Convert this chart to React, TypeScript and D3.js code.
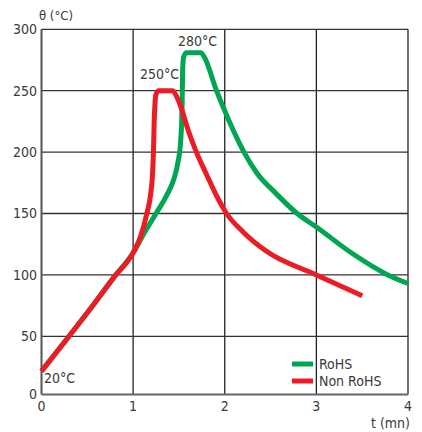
import React from "react";
import * as d3 from "d3";

const xTicks = [0, 1, 2, 3, 4];
const yTicks = [0, 50, 100, 150, 200, 250, 300];

const rohsT = [0, 0.29, 0.55, 0.8, 1.0, 1.12, 1.25, 1.36, 1.44, 1.49, 1.52, 1.535, 1.54, 1.55, 1.58, 1.74, 1.78, 1.91, 2.05, 2.21, 2.35, 2.55, 2.79, 3.0, 3.4, 3.78, 4.0];
const rohsV = [20, 49, 74, 99, 118, 134, 150, 164, 177, 192, 210, 240, 265, 277, 281, 281, 277, 250, 225, 200, 183, 167, 150, 139, 117, 100, 93];

const nonRohsT = [0, 0.29, 0.55, 0.8, 1.0, 1.08, 1.15, 1.19, 1.21, 1.222, 1.23, 1.24, 1.25, 1.28, 1.43, 1.47, 1.52, 1.6, 1.69, 1.8, 1.9, 2.02, 2.2, 2.46, 3.0, 3.5];
const nonRohsV = [20, 49, 74, 99, 118, 131, 150, 165, 180, 200, 225, 241, 247, 250, 250, 246, 237, 218, 200, 182, 166, 150, 135, 119, 100, 83];

const FONT = "'Liberation Sans Narrow', 'DejaVu Sans Condensed', sans-serif";
const TXT = "#3a3a3a";
const GREEN = "#00a651";
const RED = "#ed1c24";

export default function App() {
  const x = d3.scaleLinear().domain([0, 4]).range([41.5, 408]);
  const y = d3.scaleLinear().domain([0, 50, 300]).range([394.5, 336.3, 29.3]);
  const line = d3
    .line<[number, number]>()
    .x((d) => x(d[0]))
    .y((d) => y(d[1]))
    .curve(d3.curveMonotoneX);
  const rohs = rohsT.map((t, i) => [t, rohsV[i]] as [number, number]);
  const non = nonRohsT.map((t, i) => [t, nonRohsV[i]] as [number, number]);

  return (
    <svg width={422} height={432} style={{ position: "absolute", left: 0, top: 0 }} fontFamily={FONT}>
      <rect width={422} height={432} fill="#fff" />
      {xTicks.slice(1).map((t) => (
        <line key={"gx" + t} x1={x(t)} x2={x(t)} y1={y(300)} y2={y(0)} stroke="#222" strokeWidth={1.3} />
      ))}
      {yTicks.slice(1).map((v) => (
        <line key={"gy" + v} x1={x(0)} x2={x(4)} y1={y(v)} y2={y(v)} stroke="#333" strokeWidth={1.3} />
      ))}
      <line x1={x(0)} x2={x(0)} y1={y(300)} y2={y(0)} stroke="#555" strokeWidth={2} />
      <line x1={x(0)} x2={x(4)} y1={y(0)} y2={y(0)} stroke="#666" strokeWidth={2} />
      {yTicks.map((v) => (
        <text key={"yl" + v} x={37} y={y(v)} dy="0.35em" textAnchor="end" fontSize={14} fill={TXT}>
          {v}
        </text>
      ))}
      {xTicks.map((t) => (
        <text key={"xl" + t} x={x(t)} y={406} dy="0.35em" textAnchor="middle" fontSize={14} fill={TXT}>
          {t}
        </text>
      ))}
      <text x={39} y={20} fontSize={13} fill={TXT}>θ (°C)</text>
      <text x={410} y={428} textAnchor="end" fontSize={14} fill={TXT}>t (mn)</text>

      <path d={line(rohs) || ""} fill="none" stroke={GREEN} strokeWidth={5} strokeLinejoin="round" strokeLinecap="butt" />
      <path d={line(non) || ""} fill="none" stroke={RED} strokeWidth={5} strokeLinejoin="round" strokeLinecap="butt" />

      <text x={178} y={46} fontSize={14} fill={TXT}>280°C</text>
      <text x={140} y={79} fontSize={14} fill={TXT}>250°C</text>
      <text x={44} y={383} fontSize={14} fill={TXT}>20°C</text>

      <line x1={292} x2={313} y1={364} y2={364} stroke={GREEN} strokeWidth={5} />
      <text x={319} y={364} dy="0.35em" fontSize={14} fill={TXT}>RoHS</text>
      <line x1={292} x2={313} y1={381} y2={381} stroke={RED} strokeWidth={5} />
      <text x={319} y={381} dy="0.35em" fontSize={14} fill={TXT}>Non RoHS</text>
    </svg>
  );
}
